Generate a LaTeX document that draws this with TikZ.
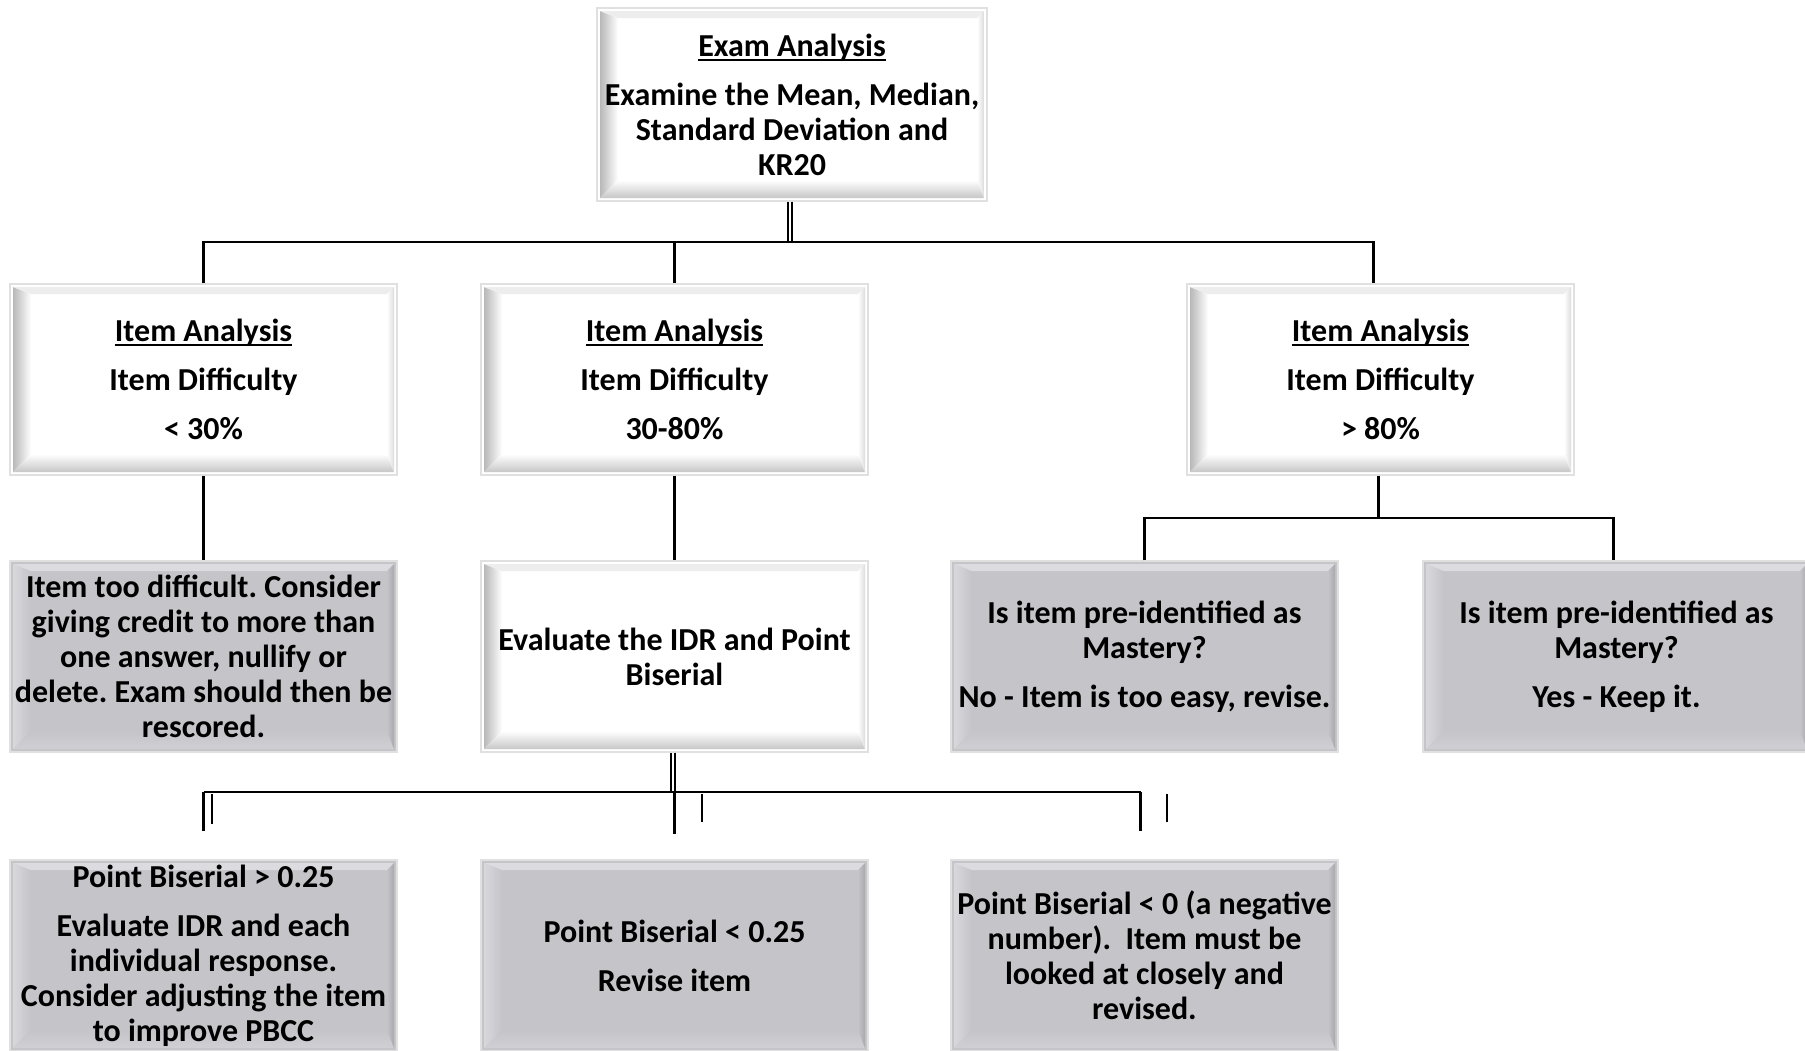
\documentclass[tikz,border=0pt]{standalone}
\usepackage{fontspec}
\setmainfont{Carlito}
\usetikzlibrary{calc}
\frenchspacing
\definecolor{gfill}{RGB}{196,196,201}
\definecolor{gl}{RGB}{216,216,220}
\definecolor{gt}{RGB}{220,220,224}
\definecolor{gb}{RGB}{208,208,212}
\definecolor{gr}{RGB}{168,168,173}
\newsavebox\ulbox
\newcommand\ulx[1]{\sbox\ulbox{#1}\rlap{\rule[-2.4pt]{\wd\ulbox}{1pt}}\usebox\ulbox}
\newcommand\bevelpic[5]{%
  \path (path picture bounding box.south west) ++(1.5pt,1.5pt) coordinate (SW)
        (path picture bounding box.north east) ++(-1.5pt,-1.5pt) coordinate (NE);
  \path (SW |- NE) coordinate (NW) (SW -| NE) coordinate (SE);
  \path ([shift={(9pt,-3.5pt)}]NW) coordinate (iNW)
        ([shift={(-3.5pt,-3.5pt)}]NE) coordinate (iNE)
        ([shift={(-3.5pt,9pt)}]SE) coordinate (iSE)
        ([shift={(9pt,9pt)}]SW) coordinate (iSW);
  \shade[left color=#1, right color=#2] (NW) -- (iNW) -- (iSW) -- (SW) -- cycle;
  \fill[#3] (NW) -- (NE) -- (iNE) -- (iNW) -- cycle;
  \shade[top color=#2, bottom color=#4] (SW) -- (iSW) -- (iSE) -- (SE) -- cycle;
  \shade[left color=#2, right color=#5] (SE) -- (iSE) -- (iNE) -- (NE) -- cycle;
}
\tikzset{
  x=0.5pt, y=-0.5pt,
  basebox/.style={rectangle, minimum width=193.5pt, minimum height=95.5pt,
    inner sep=0pt, align=center, draw=black!12, line width=0.6pt,
    font=\fontsize{16pt}{17.5pt}\selectfont\bfseries},
  wbox/.style={basebox, fill=white,
    path picture={\bevelpic{black!28}{white}{black!7}{black!22}{black!14}}},
  gbox/.style={basebox, fill=gfill,
    path picture={\bevelpic{gl}{gfill}{gt}{gb}{gr}}},
  ln/.style={draw=black, line width=1.4pt},
  dbl/.style={draw=black, double=white, double distance=1pt, line width=1pt},
}
\begin{document}
\begin{tikzpicture}
\useasboundingbox[fill=white] (0,0) rectangle (1805,1050);

\node[wbox, minimum width=195pt, minimum height=96.5pt] (top) at (792,104.5)
  {\ulx{Exam Analysis}\\[7pt] Examine the Mean, Median,\\ Standard Deviation and\\ KR20};

\node[wbox] (A) at (203.5,379.5) {\ulx{Item Analysis}\\[7pt] Item Difficulty\\[7pt] < 30\%};
\node[wbox] (B) at (674.5,379.5) {\ulx{Item Analysis}\\[7pt] Item Difficulty\\[7pt] 30-80\%};
\node[wbox] (C) at (1380.5,379.5) {\ulx{Item Analysis}\\[7pt] Item Difficulty\\[7pt] > 80\%};

\node[gbox] (D) at (203.5,656.5) {Item too difficult. Consider\\ giving credit to more than\\ one answer, nullify or\\ delete. Exam should then be\\ rescored.};
\node[wbox] (E) at (674.5,656.5) {Evaluate the IDR and Point\\ Biserial};
\node[gbox] (F) at (1144.5,656.5) {Is item pre-identified as\\ Mastery?\\[7pt] No - Item is too easy, revise.};
\node[gbox] (G) at (1616.5,656.5) {Is item pre-identified as\\ Mastery?\\[7pt] Yes - Keep it.};

\node[gbox] (H) at (203.5,955.5) {Point Biserial > 0.25\\[7pt] Evaluate IDR and each\\ individual response.\\ Consider adjusting the item\\ to improve PBCC};
\node[gbox] (I) at (674.5,955.5) {Point Biserial < 0.25\\[7pt] Revise item};
\node[gbox] (J) at (1144.5,955.5) {Point Biserial < 0 (a negative\\ number).\ \ Item must be\\ looked at closely and\\ revised.};

% top bus
\coordinate (bus1) at (790,242);
\draw[dbl] ([xshift=-1pt]top.south) -- ([xshift=-1pt]top.south |- bus1);
\draw[ln] (A.north) -- (A.north |- bus1) -- ([xshift=-3.5pt]C.north |- bus1) -- ([xshift=-3.5pt]C.north);
\draw[ln] (B.north) -- (B.north |- bus1);

% row 2 to row 3
\draw[ln] (A.south) -- (D.north);
\draw[ln] (B.south) -- (E.north);
\coordinate (bus2) at (1378,518);
\draw[ln] ([xshift=-1.2pt]C.south) -- ([xshift=-1.2pt]C.south |- bus2);
\draw[ln] (F.north) -- (F.north |- bus2) -- ([xshift=-1.7pt]G.north |- bus2) -- ([xshift=-1.7pt]G.north);

% row 3 to row 4
\coordinate (bus3) at (672,792);
\draw[dbl] ([xshift=-1pt]E.south) -- ([xshift=-1pt]E.south |- bus3);
\draw[ln, line width=1.2pt] (H.north |- bus3) -- ([xshift=-2pt]J.north |- bus3);
\draw[ln, line width=1.2pt] (H.north |- bus3) -- ([yshift=14pt]H.north);
\draw[ln, line width=1.2pt] (I.north |- bus3) -- ([yshift=12.5pt]I.north);
\draw[ln, line width=1.2pt] ([xshift=-2pt]J.north |- bus3) -- ([xshift=-2pt,yshift=14pt]J.north);
% stray short strokes
\coordinate (s1) at (212,794);
\coordinate (s2) at (702,794);
\coordinate (s3) at (1167,794);
\draw[ln, line width=1.2pt] (s1) -- ++(0,30);
\draw[ln, line width=1.2pt] (s2) -- ++(0,28);
\draw[ln, line width=1.2pt] (s3) -- ++(0,28);
\end{tikzpicture}
\end{document}
